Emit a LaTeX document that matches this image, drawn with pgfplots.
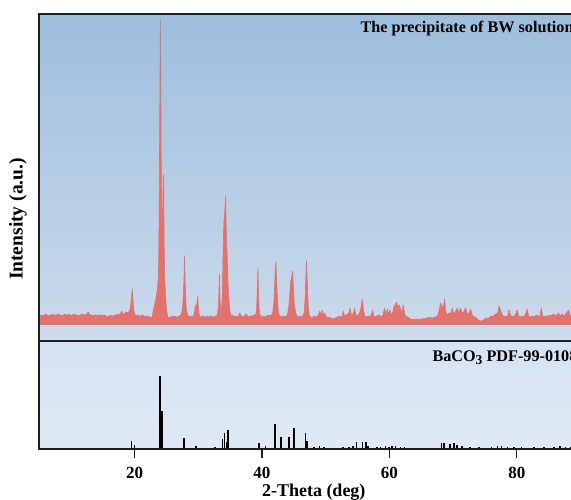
\documentclass[border=0pt]{standalone}
\usepackage{pgfplots}
\pgfplotsset{compat=1.18}
\usepackage{fontspec}
\setmainfont{Liberation Serif}
\definecolor{xrdred}{RGB}{229,113,109}
\definecolor{bgtop}{RGB}{157,190,221}
\definecolor{bgmid}{RGB}{204,219,236}
\definecolor{bgbota}{RGB}{214,227,241}
\definecolor{bgbotb}{RGB}{222,233,245}
\definecolor{axcol}{RGB}{30,30,30}
\begin{document}
\begin{tikzpicture}[x=1pt,y=1pt]
\path[use as bounding box] (0,0) rectangle (571,500);
% ---------- top panel: measured pattern ----------
\begin{axis}[
  at={(39pt,159pt)}, anchor=south west, scale only axis,
  width=541.5pt, height=327pt,
  xmin=5, xmax=90, ymin=-16, ymax=311,
  xtick=\empty, ytick=\empty,
  axis line style={line width=1.6pt, axcol},
  axis background/.style={top color=bgtop, bottom color=bgmid},
  axis on top,
]
\addplot[fill=xrdred, draw=xrdred, line width=0.6pt, line join=round] coordinates {
(5,0)(5.00,10)(5.25,9)(5.5,10)(5.75,9)(6.0,11)(6.25,10)(6.5,9)(6.75,10)(7.0,10)(7.25,11)(7.5,9)(7.75,10)(8.0,11)(8.25,10)(8.5,10)(8.75,9)(9.0,11)(9.25,10)(9.5,10)(9.75,11)(10.0,9)(10.25,10)(10.5,11)(10.75,10)(11.0,10)(11.25,9)(11.5,10)(11.75,11)(12.0,10)(12.25,10)(12.5,11)(12.75,13)(13.0,10)(13.25,10)(13.5,9)(13.75,10)(14.0,10)(14.25,9)(14.5,10)(14.75,10)(15.0,9)(15.25,10)(15.5,9)(15.75,8)(16.0,9)(16.25,10)(16.5,8)(16.75,10)(17.0,9)(17.25,11)(17.5,10)(17.75,11)(18.0,14)(18.25,10)(18.5,12)(18.75,13)(19.0,12)(19.25,15)
(19.4,20)(19.55,30)(19.64,36)(19.75,25)(19.9,14)(20.0,11)
(20.25,9)(20.5,10)(20.75,9)(21.0,9)(21.25,10)(21.5,9)(21.75,8)(22.0,9)(22.25,8)(22.5,8)(22.7,7)
(22.8,10)(23.0,16)(23.2,22)(23.4,28)(23.6,36)(23.75,50)(23.85,100)(23.95,210)(24.05,306)(24.12,250)(24.2,150)(24.3,95)(24.4,105)(24.5,150)(24.57,145)(24.65,80)(24.75,45)(24.9,25)(25.05,14)(25.2,8)
(25.5,7)(25.75,9)(26.0,8)(26.25,9)(26.5,8)(26.75,8)(27.0,9)(27.25,10)
(27.4,12)(27.6,22)(27.75,45)(27.85,69)(27.95,42)(28.1,18)(28.3,10)
(28.5,9)(28.75,8)(29.0,9)(29.2,8)(29.4,12)(29.55,20)(29.65,16)(29.8,22)(29.92,29)(30.05,15)(30.2,9)(30.5,8)(30.75,9)(31.0,8)(31.25,8)(31.5,9)(31.75,8)(32.0,9)(32.25,8)(32.5,8)(32.75,9)(33.0,10)
(33.15,18)(33.25,35)(33.32,51)(33.42,25)(33.55,14)
(33.7,20)(33.82,40)(33.95,90)(34.05,105)(34.15,112)(34.22,120)(34.3,129)(34.38,100)(34.47,80)(34.55,68)(34.65,45)(34.78,30)(34.9,18)(35.05,11)
(35.25,9)(35.5,10)(35.75,8)(36.0,9)(36.25,8)(36.5,12)(36.75,9)(37.0,8)(37.25,9)(37.5,11)(37.75,9)(38.0,8)(38.25,9)(38.5,9)(38.75,10)(39.0,10)
(39.15,15)(39.28,38)(39.36,57)(39.45,36)(39.55,16)(39.7,10)
(39.9,9)(40.1,8)(40.3,9)(40.5,8)(40.75,9)(41.0,10)(41.25,9)(41.5,10)
(41.7,13)(41.9,25)(42.05,50)(42.18,64)(42.3,45)(42.45,22)(42.6,12)
(42.8,9)(43.0,8)(43.25,9)(43.5,8)(43.75,9)(44.0,10)
(44.2,18)(44.35,30)(44.5,42)(44.62,47)(44.72,50)(44.82,54)(44.95,35)(45.1,20)(45.3,12)(45.5,9)
(45.75,8)(46.0,9)(46.25,8)(46.5,10)
(46.65,14)(46.78,28)(46.9,50)(47.0,64)(47.1,45)(47.25,20)(47.4,10)
(47.6,8)(47.8,7)(48.0,8)(48.25,9)(48.5,8)(48.75,9)(49.09,14)(49.3,9)(49.47,15)(49.65,10)(49.87,12)(50.1,8)(50.35,7)(50.6,8)(50.85,7)(51.1,6)(51.35,7)(51.6,7)(51.85,8)(52.1,9)(52.4,8)(52.6,9)(52.76,14)(52.95,9)(53.2,10)(53.45,11)(53.65,12)(53.8,17)(54.0,11)(54.2,10)(54.4,13)(54.54,17)(54.7,11)(54.9,9)(55.1,10)(55.3,12)(55.5,16)(55.75,26)(55.95,14)(56.15,9)(56.4,8)(56.65,9)(56.9,8)(57.15,10)(57.36,15)(57.55,9)(57.8,8)(58.05,9)(58.3,10)(58.55,9)(58.8,8)(59.0,10)(59.25,17)(59.45,10)(59.67,16)(59.85,11)(60.08,15)(60.3,10)(60.5,12)(60.7,18)(60.9,20)(61.13,23)(61.35,18)(61.55,20)(61.75,16)(61.95,12)(62.18,20)(62.4,11)(62.6,9)(62.85,8)(63.1,7)(63.35,6)(63.6,5)(63.85,6)(64.1,5)(64.35,6)(64.6,5)(64.85,6)(65.1,5)(65.35,7)(65.6,6)(65.85,7)(66.1,7)(66.35,8)(66.6,7)(66.85,7)(67.1,8)(67.35,8)(67.6,10)(67.8,14)(68.04,22)(68.3,18)(68.5,20)(68.67,26)(68.85,14)(69.05,10)(69.3,12)(69.5,11)(69.7,13)(69.87,17)(70.1,11)(70.35,13)(70.66,17)(70.9,12)(71.18,17)(71.4,12)(71.65,13)(71.96,17)(72.2,12)(72.5,11)(72.75,16)(73.0,10)(73.25,8)(73.5,8)(73.75,6)(74.0,5)(74.25,4)(74.5,4)(74.75,5)(75.0,6)(75.25,7)(75.5,6)(75.75,8)(76.0,9)(76.25,8)(76.5,10)(76.75,11)(77.0,12)(77.19,19)(77.4,16)(77.6,12)(77.85,9)(78.1,8)(78.35,9)(78.55,8)(78.76,15)(79.0,10)(79.25,8)(79.5,9)(79.75,10)(80.08,15)(80.3,9)(80.55,8)(80.8,9)(81.05,8)(81.3,10)(81.45,12)(81.65,16)(81.85,9)(82.1,8)(82.35,9)(82.6,8)(82.85,9)(83.1,10)(83.35,9)(83.6,8)(83.85,17)(84.05,9)(84.3,8)(84.55,9)(84.8,8)(85.05,10)(85.3,9)(85.55,10)(85.8,11)(86.05,9)(86.3,10)(86.55,12)(86.8,9)(87.05,11)(87.3,9)(87.55,10)(87.8,12)(88.13,15)(88.35,10)(88.6,9)(88.85,11)(89.1,9)(89.35,10)(89.6,9)(90.0,9)(90,0)
};
\end{axis}
% ---------- bottom panel: reference pattern ----------
\begin{axis}[
  at={(39pt,51pt)}, anchor=south west, scale only axis,
  width=541.5pt, height=108pt,
  xmin=5, xmax=90, ymin=0, ymax=108,
  xtick={20,40,60,80}, ytick=\empty,
  xtick pos=bottom, tick align=outside, major tick length=9pt,
  minor xtick={},
  every tick/.style={line width=1.3pt, axcol},
  axis line style={line width=1.6pt, axcol},
  axis background/.style={top color=bgbota, bottom color=bgbotb},
  axis on top,
  /pgf/number format/assume math mode=true,
  xticklabel style={font=\fontsize{17}{17}\selectfont\bfseries, yshift=-6pt},
  xlabel={2-Theta (deg)},
  xlabel style={font=\fontsize{18}{18}\selectfont\bfseries, yshift=2pt, xshift=4pt},
]
\addplot[ycomb, black, line width=1.6pt] coordinates {
(19.53,8)(20.0,4)(23.97,72.6)(24.35,37.6)(27.8,11)(29.62,3)(32.6,2)(33.3,1)(33.81,10)(34.13,15.6)(34.44,7)(34.71,19)(38.05,1)(39.58,6)(40.56,2.6)(42.02,25)(43.03,11.6)(44.25,11.6)(45.0,20.6)(46.84,15.6)(47.05,7.6)(48.15,1.5)(49.04,3)(49.72,2)(52.7,2)(53.64,2)(54.33,3)(54.85,6.6)(55.75,6.6)(56.37,6.6)(56.62,3)(58.1,2)(58.62,2)(59.4,3)(59.92,2)(60.45,3)(60.97,2.5)(61.76,2)(62.39,2)(68.15,5.6)(68.56,5.6)(69.5,5)(70.13,5.6)(70.66,4)(71.44,3)(72.64,2)(74.05,1.5)(76.04,1.5)(76.94,3)(77.57,3.3)(78.51,2)(79.55,2)(80.71,1.5)(82.69,1.5)(84.26,1.5)(85.83,1.5)(86.77,2.5)(87.66,2)(88.45,2)
};
\end{axis}
\node[anchor=base west, font=\fontsize{16.2}{17}\selectfont\bfseries] at (357,467) {The precipitate of BW solution};
\node[anchor=base west, font=\fontsize{16.2}{17}\selectfont\bfseries] at (429,138.5) {BaCO\raisebox{-0.4ex}{\fontsize{13.5}{14}\selectfont 3} PDF-99-0108};
\node[rotate=90, font=\fontsize{19.5}{20}\selectfont\bfseries] at (18,281) {Intensity (a.u.)};
\end{tikzpicture}
\end{document}
